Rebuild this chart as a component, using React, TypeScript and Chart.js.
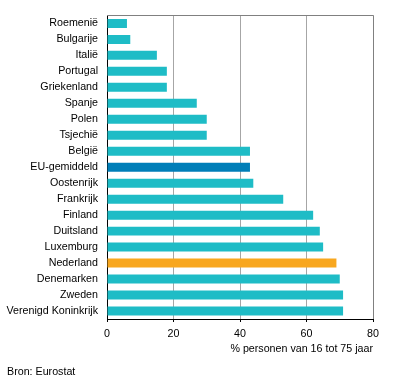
import React, { useEffect, useRef } from "react";
import { Chart, registerables } from "chart.js";

Chart.register(...registerables);

const categories = [
  "Roemenië",
  "Bulgarije",
  "Italië",
  "Portugal",
  "Griekenland",
  "Spanje",
  "Polen",
  "Tsjechië",
  "België",
  "EU-gemiddeld",
  "Oostenrijk",
  "Frankrijk",
  "Finland",
  "Duitsland",
  "Luxemburg",
  "Nederland",
  "Denemarken",
  "Zweden",
  "Verenigd Koninkrijk",
];

const values = [6, 7, 15, 18, 18, 27, 30, 30, 43, 43, 44, 53, 62, 64, 65, 69, 70, 71, 71];

const xTicks = [0, 20, 40, 60, 80];
const axisTitle = "% personen van 16 tot 75 jaar";
const sourceText = "Bron: Eurostat";

const TEAL = "#1EBCC6";
const EU_BLUE = "#007EB8";
const NL_ORANGE = "#F8A71F";

const FONT = "'Liberation Sans', Arial, sans-serif";
const FS = 10.7;

export default function App() {
  const ref = useRef<HTMLCanvasElement | null>(null);

  useEffect(() => {
    if (!ref.current) return;
    const colors = categories.map((c) =>
      c === "EU-gemiddeld" ? EU_BLUE : c === "Nederland" ? NL_ORANGE : TEAL
    );

    const extras = {
      id: "extras",
      afterDraw(chart: any) {
        const ctx = chart.ctx;
        const area = chart.chartArea;
        ctx.save();
        ctx.strokeStyle = "#808080";
        ctx.lineWidth = 1;
        ctx.beginPath();
        ctx.moveTo(area.left, Math.round(area.top) + 0.5);
        ctx.lineTo(area.right + 0.5, Math.round(area.top) + 0.5);
        ctx.stroke();
        ctx.fillStyle = "#000";
        ctx.font = `${FS}px ${FONT}`;
        ctx.textBaseline = "middle";
        ctx.textAlign = "right";
        ctx.fillText(axisTitle, area.right, 349);
        ctx.textAlign = "left";
        ctx.fillText(sourceText, 7, 372);
        ctx.restore();
      },
    };

    const chart = new Chart(ref.current, {
      type: "bar",
      data: {
        labels: categories,
        datasets: [
          {
            data: values,
            backgroundColor: colors,
            borderWidth: 0,
            barPercentage: 0.5625,
            categoryPercentage: 1,
          },
        ],
      },
      options: {
        indexAxis: "y",
        animation: false,
        responsive: false,
        maintainAspectRatio: false,
        layout: { padding: { top: 15, right: 23, left: 0, bottom: 0 } },
        plugins: {
          legend: { display: false },
          tooltip: { enabled: false },
        },
        scales: {
          x: {
            min: 0,
            max: 80,
            afterBuildTicks: (scale: any) => {
              scale.ticks = xTicks.map((v) => ({ value: v }));
            },
            afterFit: (scale: any) => {
              scale.height = 69;
            },
            grid: {
              color: (ctx: any) =>
                ctx.tick && ctx.tick.value === 80 ? "#808080" : "#A6A6A6",
              tickColor: "#000",
              tickLength: 3,
              lineWidth: 1,
            },
            border: { color: "#000", width: 1 },
            ticks: {
              color: "#000",
              font: { family: FONT, size: FS },
              padding: 6,
              maxRotation: 0,
            },
          },
          y: {
            afterFit: (scale: any) => {
              scale.width = 107;
            },
            grid: { display: false, drawTicks: false },
            border: { color: "#000", width: 1 },
            ticks: {
              color: "#000",
              font: { family: FONT, size: FS },
              padding: 9,
              autoSkip: false,
            },
          },
        },
      },
      plugins: [extras],
    });

    return () => chart.destroy();
  }, []);

  return (
    <div style={{ position: "fixed", left: 0, top: 0, width: 396, height: 388, background: "#fff" }}>
      <canvas ref={ref} width={396} height={388} style={{ width: 396, height: 388 }} />
    </div>
  );
}
